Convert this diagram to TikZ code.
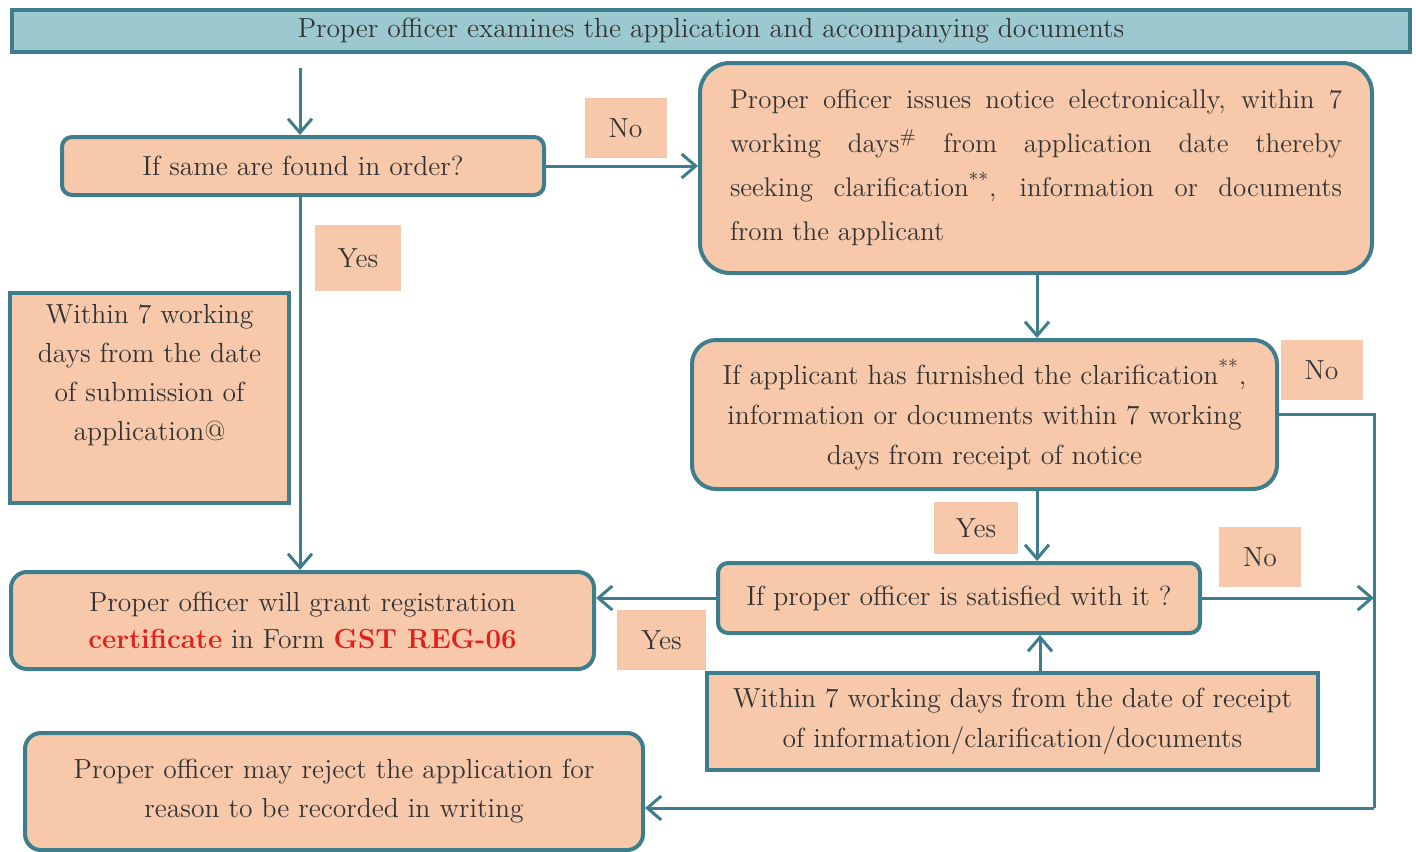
\documentclass[tikz,border=0pt]{standalone}
\usetikzlibrary{arrows.meta}
\definecolor{peach}{HTML}{F7C9AA}
\definecolor{edge}{HTML}{3E7E8C}
\definecolor{bannerfill}{HTML}{9CC8D0}
\definecolor{ink}{HTML}{333333}
\definecolor{alert}{HTML}{E0201C}
\tikzset{
  every node/.style={text=ink, font=\fontsize{13.8}{19.5}\selectfont},
  box/.style={draw=edge, line width=2pt, fill=peach, rounded corners=5pt, align=center, inner sep=0pt},
  sqbox/.style={box, rounded corners=0pt},
  lbl/.style={fill=peach, inner sep=0pt, minimum width=41pt, minimum height=30pt},
  conn/.style={draw=edge, line width=1.5pt, -{Straight Barb[length=7pt,width=12pt,line width=1.5pt]}},
  plain/.style={draw=edge, line width=1.5pt}
}
\begin{document}
\begin{tikzpicture}[x=0.5pt, y=-0.5pt]
\useasboundingbox (0,0) rectangle (1416,851);

% header bar
\node[sqbox, fill=bannerfill, minimum width=699pt, minimum height=21pt] (banner) at (711,31)
  {Proper officer examines the application and accompanying documents};

% first check
\node[box, minimum width=241pt, minimum height=29pt] (q1) at (303,166) {If same are found in order?};
\node[lbl] (no1) at (625.5,128) {No};

% notice to the applicant
\node[box, rounded corners=15pt, minimum width=336pt, minimum height=105pt,
      text width=306pt, align=justify, font=\fontsize{13.5}{22}\selectfont] (notice) at (1036,168)
  {Proper officer issues notice electronically, within 7\linebreak
   working days\textsuperscript{\#} from application date thereby\linebreak
   seeking clarification\textsuperscript{**}, information or documents\linebreak
   from the applicant};

% reply furnished?
\node[box, rounded corners=12pt, minimum width=292.5pt, minimum height=74.5pt,
      font=\fontsize{13.8}{20}\selectfont] (furnished) at (984.5,414.5)
  {If applicant has furnished the clarification\textsuperscript{**},\\ information or documents within 7 working\\ days from receipt of notice};
\node[lbl] (no2) at (1321.5,370) {No};
\node[lbl, minimum width=42pt, minimum height=26pt] (yes2) at (976,528) {Yes};

% satisfied?
\node[box, minimum width=241pt, minimum height=35pt] (satisfied) at (959,598) {If proper officer is satisfied with it ?};
\node[lbl] (no3) at (1260,557) {No};
\node[lbl, minimum width=44.5pt] (yes3) at (661.5,640) {Yes};

% time limit after reply
\node[sqbox, minimum width=305.5pt, minimum height=48.5pt, font=\fontsize{13.8}{20}\selectfont] (within2) at (1012.5,721.5)
  {Within 7 working days from the date of receipt\\ of information/clarification/documents};

% grant
\node[box, rounded corners=8pt, minimum width=291.5pt, minimum height=48.5pt, font=\fontsize{13.8}{18.5}\selectfont] (grant) at (302.5,620.5)
  {Proper officer will grant registration\\ {\bfseries\color{alert}certificate} in Form {\bfseries\color{alert}GST REG-06}};

% time limit after application
\node[sqbox, minimum width=139.5pt, minimum height=105pt] (within1) at (149.5,398)
  {Within 7 working\\ days from the date\\ of submission of\\ application@\\ \strut};
\node[lbl, minimum width=43pt, minimum height=33pt] (yes1) at (358,258) {Yes};

% rejection
\node[box, rounded corners=8pt, minimum width=309pt, minimum height=58.5pt] (reject) at (334,791.5)
  {Proper officer may reject the application for\\ reason to be recorded in writing};

% guide coordinates
\coordinate (s0) at (300,68);
\coordinate (vx) at (1037,0);
\coordinate (rx) at (1374,0);
\coordinate (ry) at (0,808);

% connectors
\draw[conn] (s0) -- (s0 |- q1.north);
\draw[conn] (q1.east) -- (q1.east -| notice.west);
\draw[conn] (q1.south -| s0) -- (s0 |- grant.north);
\draw[conn] (vx |- notice.south) -- (vx |- furnished.north);
\draw[conn] (vx |- furnished.south) -- (vx |- satisfied.north);
\draw[conn] (1040,0 |- within2.north) -- (1040,0 |- satisfied.south);
\draw[conn] (satisfied.west) -- (satisfied.west -| grant.east);
\draw[conn] (satisfied.east) -- (satisfied.east -| rx);
\draw[plain] (furnished.east) -- (rx |- furnished.east) -- (rx |- ry);
\draw[conn] (rx |- ry) -- (reject.east |- ry);
\end{tikzpicture}
\end{document}
